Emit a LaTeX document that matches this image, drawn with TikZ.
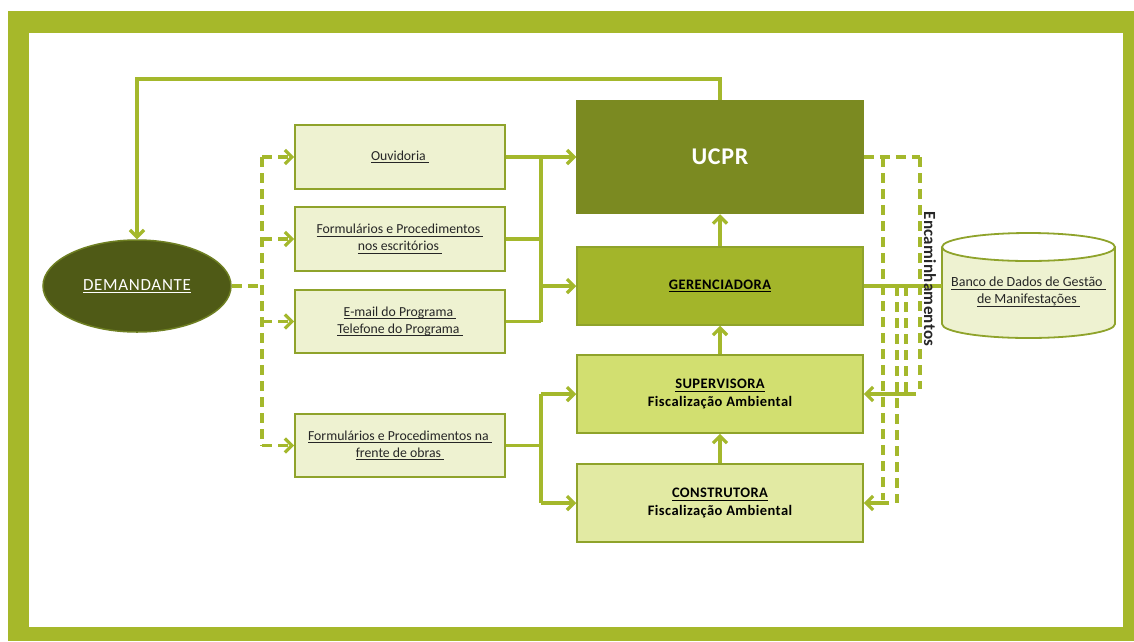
\documentclass[tikz,border=0pt]{standalone}
\usepackage{fontspec}
\setmainfont{Carlito}
\usetikzlibrary{arrows.meta,shapes.geometric}
\definecolor{framegreen}{HTML}{A6B82A}
\definecolor{linegreen}{HTML}{A4B82C}
\definecolor{boxborder}{HTML}{8FA32B}
\definecolor{srcfill}{HTML}{EEF2D1}
\definecolor{ucprfill}{HTML}{7B8A21}
\definecolor{gerfill}{HTML}{A3B52A}
\definecolor{supfill}{HTML}{D2DF70}
\definecolor{confill}{HTML}{E2EAA3}
\definecolor{demfill}{HTML}{4F5A16}
\definecolor{demborder}{HTML}{6E7F22}
\definecolor{textdark}{HTML}{262626}
\newcommand{\ulx}[1]{\setbox0\hbox{#1\hphantom{i}}\rlap{\rule[-2.8pt]{\wd0}{0.8pt}}\box0}
\newcommand{\uly}[1]{\setbox0\hbox{#1}\rlap{\rule[-2.8pt]{\wd0}{0.8pt}}\box0}
\begin{document}
\begin{tikzpicture}[x=1pt,y=-1pt,
  srcbox/.style={draw=boxborder, line width=1.8pt, fill=srcfill, minimum width=210pt, minimum height=64pt, align=center, text=textdark, font=\fontsize{13.75}{17}\selectfont},
  orgbox/.style={draw=boxborder, line width=1.5pt, minimum width=286pt, minimum height=78pt, align=center, text=black, font=\bfseries\fontsize{14.5}{18}\selectfont\addfontfeature{LetterSpace=3}},
  conn/.style={draw=linegreen, line width=3.2pt},
  dashconn/.style={conn, dash pattern=on 10pt off 6pt},
  arrowend/.style={-{Straight Barb[length=7pt,width=14pt]}}]
\useasboundingbox (0,0) rectangle (1134,641);
\fill[framegreen] (8,11) rectangle (1134,641);
\fill[white] (29,33) rectangle (1123,627);

% cylinder (database)
\fill[srcfill] (942,247) -- (942,324) arc[start angle=180,end angle=0,x radius=86.5,y radius=14] -- (1115,247) arc[start angle=0,end angle=180,x radius=86.5,y radius=14] -- cycle;
\draw[boxborder, line width=1.8pt] (942,247) -- (942,324) arc[start angle=180,end angle=0,x radius=86.5,y radius=14] -- (1115,247);
\draw[boxborder, line width=1.8pt] (1028.5,247) ellipse[x radius=86.5,y radius=14];
\node[align=center, text=textdark, font=\fontsize{14}{17}\selectfont] (db) at (1028.5,292) {\ulx{Banco de Dados de Gestão}\\\ulx{de Manifestações}};
\coordinate (dbw) at (942,286);

% nodes
\node[ellipse, draw=demborder, line width=1.5pt, fill=demfill, minimum width=188pt, minimum height=92pt, text=white, font=\fontsize{17}{18}\selectfont\addfontfeature{LetterSpace=4}] (dem) at (137,286) {\uly{DEMANDANTE}};

\node[srcbox] (ouv) at (400,157) {\ulx{Ouvidoria}};
\node[srcbox] (form1) at (400,239) {\ulx{Formulários e Procedimentos}\\\ulx{nos escritórios}};
\node[srcbox, minimum height=63pt] (email) at (400,321.5) {\ulx{E-mail do Programa}\\\ulx{Telefone do Programa}};
\node[srcbox, minimum height=63pt] (form2) at (400,445.5) {\ulx{Formulários e Procedimentos na}\\\ulx{frente de obras}};

\node[orgbox, draw=ucprfill, fill=ucprfill, minimum height=113pt, text=white, font=\bfseries\fontsize{24}{28}\selectfont\addfontfeature{LetterSpace=3}] (ucpr) at (720,157) {UCPR};
\node[orgbox, fill=gerfill] (ger) at (720,286) {\uly{GERENCIADORA}};
\node[orgbox, fill=supfill, draw=boxborder] (sup) at (720,394) {\uly{SUPERVISORA}\\Fiscalização Ambiental};
\node[orgbox, fill=confill, draw=boxborder] (con) at (720,503) {\uly{CONSTRUTORA}\\Fiscalização Ambiental};

% top loop
\coordinate (top) at (137,79);
\draw[conn, arrowend] (ucpr.north) |- (top) -- (dem.north);

% dashed from demandante
\coordinate (dl) at (262,286);
\draw[dashconn] (dem.east) -- (dl);
\draw[dashconn] (dl |- ouv.west) -- (dl |- form2.west);
\draw[dashconn, arrowend] (dl |- ouv.west) -- (ouv.west);
\draw[dashconn, arrowend] (dl |- form1.west) -- (form1.west);
\draw[dashconn, arrowend] (dl |- email.west) -- (email.west);
\draw[dashconn, arrowend] (dl |- form2.west) -- (form2.west);

% left sources to UCPR / GERENCIADORA
\coordinate (jx) at (541,0);
\draw[conn, arrowend] (ouv.east) -- (ucpr.west);
\draw[conn] (form1.east) -- (jx |- form1.east);
\draw[conn] (email.east) -- (jx |- email.east);
\draw[conn] (jx |- ouv.east) -- (jx |- email.east);
\draw[conn, arrowend] (jx |- ger.west) -- (ger.west);

% lower source to SUPERVISORA / CONSTRUTORA
\draw[conn] (form2.east) -- (jx |- form2.east);
\draw[conn] (jx |- sup.west) -- (jx |- con.west);
\draw[conn, arrowend] (jx |- sup.west) -- (sup.west);
\draw[conn, arrowend] (jx |- con.west) -- (con.west);

% upward chain
\draw[conn, arrowend] (ger.north) -- (ucpr.south);
\draw[conn, arrowend] (sup.north) -- (ger.south);
\draw[conn, arrowend] (con.north) -- (sup.south);

% right side encaminhamentos
\coordinate (r1) at (883,0);
\coordinate (r2) at (897,0);
\coordinate (r3) at (906,0);
\coordinate (r4) at (920,0);
\draw[dashconn] (ucpr.east) -- (r4 |- ucpr.east);
\draw[dashconn] (r1 |- ucpr.east) -- (883,500);
\draw[dashconn] (r4 |- ucpr.east) -- (920,389);
\draw[conn] (ger.east) -- (dbw);
\draw[dashconn] (r2 |- ger.east) -- (897,503);
\draw[dashconn] (r3 |- ger.east) -- (906,394);
\draw[conn, arrowend] (916,394) -- (sup.east);
\draw[conn, arrowend] (889,503) -- (con.east);

\node[rotate=-90, text=textdark, font=\bfseries\fontsize{17}{18}\selectfont\addfontfeature{LetterSpace=2}] (enc) at (930,279) {Encaminhamentos};
\end{tikzpicture}
\end{document}
